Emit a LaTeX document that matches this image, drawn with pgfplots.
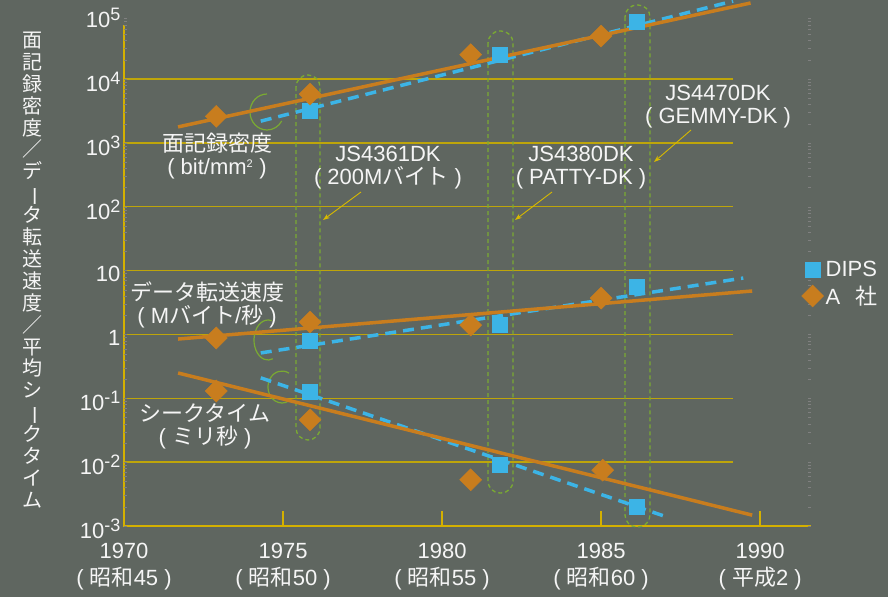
\documentclass[border=0pt]{standalone}
\usepackage{fontspec}
\setmainfont{Liberation Sans}
\newfontfamily\jp{Noto Sans CJK JP}
\usepackage{pgfplots}
\pgfplotsset{compat=1.18}
\usetikzlibrary{arrows.meta}
\definecolor{bgc}{RGB}{95,102,96}
\definecolor{gridc}{RGB}{190,165,10}
\definecolor{axc}{RGB}{212,176,0}
\definecolor{orc}{RGB}{200,125,30}
\definecolor{blc}{RGB}{60,180,230}
\definecolor{grc}{RGB}{122,170,50}
\definecolor{txc}{RGB}{245,245,245}
\definecolor{arc}{RGB}{215,185,0}
\newcommand\J[1]{{\jp #1}}
\newcommand\ex[1]{\raisebox{7pt}{\fontsize{18}{18}\selectfont #1}}
\newcommand\F{\fontsize{22}{27}\selectfont}
\begin{document}
\begin{tikzpicture}
\fill[bgc] (0,0) rectangle (888pt,-597pt);
% gridlines
\foreach \gy in {462.1,398.3,334.4,270.6,206.7,142.9,79.0}{
  \draw[gridc, line width=1.5pt] (124pt,-\gy pt) -- (733pt,-\gy pt);
}
% axis lines and ticks
\draw[axc, line width=2.2pt] (124pt,-25pt) -- (124pt,-526pt) -- (811pt,-526pt);
\foreach \tx in {283,442,601,760}{
  \draw[axc, line width=2pt] (\tx pt,-526pt) -- (\tx pt,-511pt);
}
% stadiums
\draw[grc, line width=1.3pt, dash pattern=on 4pt off 3pt, rounded corners=12pt] (296pt,-75pt) rectangle (320pt,-440pt);
\draw[grc, line width=1.3pt, dash pattern=on 4pt off 3pt, rounded corners=12pt] (488pt,-31pt) rectangle (513pt,-493pt);
\draw[grc, line width=1.3pt, dash pattern=on 4pt off 3pt, rounded corners=12pt] (625pt,-5pt) rectangle (650pt,-527pt);
% arcs
\draw[grc, line width=1.2pt] (267pt,-112pt) ++(90:17pt and 18pt) arc[start angle=90,end angle=330,x radius=17pt,y radius=18pt];
\draw[grc, line width=1.2pt] (268pt,-340pt) ++(75:14pt and 20pt) arc[start angle=75,end angle=290,x radius=14pt,y radius=20pt];
\draw[grc, line width=1.2pt] (282pt,-387pt) ++(60:14pt and 16pt) arc[start angle=60,end angle=300,x radius=14pt,y radius=16pt];
% arrows
\draw[arc, line width=0.9pt, -{Stealth[length=7pt,width=5pt]}] (361pt,-192pt) -- (323pt,-220pt);
\draw[arc, line width=0.9pt, -{Stealth[length=7pt,width=5pt]}] (552pt,-192pt) -- (515pt,-220pt);
\draw[arc, line width=0.9pt, -{Stealth[length=7pt,width=5pt]}] (691pt,-130pt) -- (654pt,-162pt);

\begin{axis}[
  at={(124pt,-526pt)}, anchor=south west,
  scale only axis, width=687pt, height=526pt,
  xmin=1970, xmax=1991.6,
  ymode=log, ymin=1e-3, ymax=1.726e5,
  axis line style={draw=none},
  major tick length=0pt, minor tick num=0,
  xtick={1970,1975,1980,1985,1990},
  xticklabels={{1970\\( \J{昭和}45 )},{1975\\( \J{昭和}50 )},{1980\\( \J{昭和}55 )},{1985\\( \J{昭和}60 )},{1990\\( \J{平成}2 )}},
  xticklabel style={align=center, yshift=-14pt},
  ytick={1e-3,1e-2,1e-1,1,10,100,1000,1e4,1e5},
  yticklabels={10\ex{-3},10\ex{-2},10\ex{-1},1,10,10\ex{2},10\ex{3},10\ex{4},10\ex{5}},
  yticklabel style={yshift=-3pt},
  every tick label/.append style={font=\F, text=txc},
  log ticks with fixed point,
  legend style={at={(0.986,0.461)}, anchor=west, draw=none, fill=none, text=txc, font=\F, row sep=4pt, inner sep=0pt},
  legend cell align=left,
]
% trend lines (DIPS dashed)
\addplot[blc, line width=3.5pt, dash pattern=on 11pt off 7pt, forget plot] coordinates {(1974.3,2188) (1989.15,166000)};
\addplot[blc, line width=3.5pt, dash pattern=on 11pt off 7pt, forget plot] coordinates {(1974.3,0.513) (1989.47,7.64)};
\addplot[blc, line width=3.5pt, dash pattern=on 11pt off 7pt, forget plot] coordinates {(1974.3,0.209) (1986.95,0.00145)};
% trend lines (A)
\addplot[orc, line width=3.5pt, forget plot] coordinates {(1971.7,1778) (1989.7,154900)};
\addplot[orc, line width=3.5pt, forget plot] coordinates {(1971.7,0.847) (1989.75,4.79)};
\addplot[orc, line width=3.5pt, forget plot] coordinates {(1971.7,0.249) (1989.75,0.00148)};
% data points
\addplot[only marks, mark=square*, mark size=7.5pt, mark options={fill=blc, draw=blc}] coordinates {(1975.85,3200) (1981.8,24000) (1986.13,78000)};
\addlegendentry{DIPS}
\addplot[only marks, mark=square*, mark size=7.8pt, mark options={fill=orc, draw=orc, rotate=45}] coordinates {(1972.9,2600) (1975.85,5800) (1980.9,24000) (1985.0,47000)};
\addlegendentry{A\hspace{15pt}\J{社}}
\addplot[only marks, mark=square*, mark size=7.8pt, mark options={fill=orc, draw=orc, rotate=45}, forget plot] coordinates {(1972.9,0.88) (1975.85,1.56) (1980.9,1.4) (1985.0,3.7)};
\addplot[only marks, mark=square*, mark size=7.8pt, mark options={fill=orc, draw=orc, rotate=45}, forget plot] coordinates {(1972.9,0.13) (1975.85,0.046) (1980.9,0.0053) (1985.05,0.0075)};
\addplot[only marks, mark=square*, mark size=7.5pt, mark options={fill=blc, draw=blc}, forget plot] coordinates {(1975.85,0.79) (1981.8,1.4) (1986.13,5.5)};
\addplot[only marks, mark=square*, mark size=7.5pt, mark options={fill=blc, draw=blc}, forget plot] coordinates {(1975.85,0.126) (1981.8,0.009) (1986.13,0.0020)};
\end{axis}

% y label (vertical)
\node[anchor=center, align=center, text=txc, font=\jp\fontsize{20}{21.9}\selectfont] at (32pt,-270pt)
 {面\\記\\録\\密\\度\\／\\デ\\\smash{\rotatebox[origin=c]{-90}{ー}}\\タ\\転\\送\\速\\度\\／\\平\\均\\シ\\\smash{\rotatebox[origin=c]{-90}{ー}}\\ク\\タ\\イ\\ム};
% series labels
\begin{scope}[every node/.style={text=txc, align=center, inner sep=1pt}]
\node[font=\fontsize{22}{23}\selectfont] at (217pt,-156.5pt) {\J{面記録密度}\\( bit/mm\textsuperscript{\fontsize{11}{11}\selectfont 2} )};
\node[font=\fontsize{22}{23}\selectfont] at (207pt,-304.5pt) {\J{データ転送速度}\\( M\J{バイト}/\J{秒} )};
\node[font=\fontsize{22}{23}\selectfont] at (205pt,-426.5pt) {\J{シークタイム}\\( \J{ミリ秒} )};
\node[font=\fontsize{22}{23}\selectfont] at (388pt,-167.5pt) {JS4361DK\\( 200M\J{バイト} )};
\node[font=\fontsize{22}{23}\selectfont] at (581pt,-167.5pt) {JS4380DK\\( PATTY-DK )};
\node[font=\fontsize{22}{23}\selectfont] at (718pt,-106.5pt) {JS4470DK\\( GEMMY-DK )};
\end{scope}
\pgfresetboundingbox
\path[use as bounding box] (0,0) rectangle (888pt,-597pt);
\end{tikzpicture}
\end{document}
